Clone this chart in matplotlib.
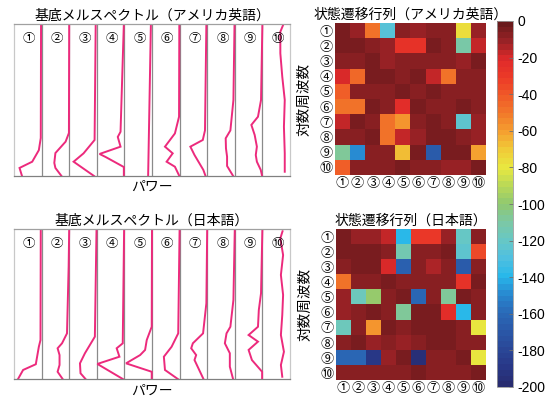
import numpy as np
import matplotlib
matplotlib.use("Agg")
import matplotlib.pyplot as plt
from matplotlib.colors import LinearSegmentedColormap

plt.rcParams['font.family'] = ['Noto Sans CJK JP', 'DejaVu Sans']
plt.rcParams['axes.unicode_minus'] = False

etiquetas = ["①", "②", "③", "④", "⑤", "⑥", "⑦", "⑧", "⑨", "⑩"]

# espectros: pares (frecuencia relativa 0..1, potencia relativa 0..1) por cada base
esp_us = [
    [(1.0, 0.98), (0.25, 0.97), (0.17, 0.90), (0.094, 0.66), (0.053, 0.20), (0.0, 0.29)],
    [(1.0, 1.0), (0.283, 0.99), (0.226, 0.87), (0.151, 0.50), (0.086, 0.46), (0.053, 0.50), (0.0, 0.72)],
    [(1.0, 0.96), (0.237, 0.92), (0.149, 0.52), (0.094, 0.16), (0.0, 0.90)],
    [(1.0, 0.98), (0.291, 0.86), (0.257, 0.76), (0.193, 0.86), (0.145, 0.10), (0.125, 0.32), (0.059, 0.98), (0.0, 0.98)],
    [(1.0, 0.96), (0.5, 0.91), (0.0, 0.86)],
    [(1.0, 0.99), (0.39, 0.98), (0.28, 0.83), (0.193, 0.47), (0.149, 0.75), (0.094, 0.53), (0.061, 0.83), (0.0, 0.99)],
    [(1.0, 0.97), (0.30, 0.92), (0.237, 0.84), (0.193, 0.39), (0.138, 0.54), (0.04, 0.86), (0.0, 0.94)],
    [(1.0, 0.99), (0.5, 0.95), (0.30, 0.84), (0.248, 0.67), (0.182, 0.68), (0.127, 0.72), (0.066, 0.72), (0.0, 0.94)],
    [(1.0, 1.0), (0.5, 0.95), (0.39, 0.84), (0.336, 0.60), (0.27, 0.72), (0.193, 0.80), (0.138, 0.76), (0.094, 0.80), (0.04, 0.94), (0.0, 0.99)],
    [(0.993, 0.75), (0.949, 0.65), (0.807, 0.65), (0.653, 0.72), (0.5, 0.81), (0.324, 0.78), (0.149, 0.81), (0.028, 0.81)],
]
esp_jp = [
    [(1.0, 0.97), (0.261, 0.96), (0.216, 0.90), (0.10, 0.79), (0.062, 0.33), (0.0, 0.14)],
    [(1.0, 1.0), (0.748, 0.98), (0.305, 0.92), (0.239, 0.74), (0.206, 0.58), (0.161, 0.65), (0.095, 0.65), (0.05, 0.58), (0.0, 0.77)],
    [(1.0, 0.99), (0.283, 0.93), (0.173, 0.57), (0.106, 0.39), (0.04, 0.41), (0.0, 0.60)],
    [(1.0, 0.99), (0.239, 0.94), (0.206, 0.72), (0.15, 0.82), (0.102, 0.02), (0.0, 0.96)],
    [(1.0, 1.0), (0.349, 0.99), (0.261, 0.81), (0.195, 0.75), (0.161, 0.57), (0.106, 0.06), (0.05, 0.99), (0.0, 0.99)],
    [(1.0, 1.0), (0.305, 0.95), (0.216, 0.71), (0.15, 0.43), (0.062, 0.47), (0.0, 0.95)],
    [(1.0, 1.0), (0.505, 0.97), (0.305, 0.85), (0.239, 0.48), (0.206, 0.42), (0.161, 0.60), (0.128, 0.54), (0.0, 0.87)],
    [(1.0, 1.0), (0.527, 0.95), (0.349, 0.84), (0.305, 0.70), (0.239, 0.64), (0.173, 0.82), (0.084, 0.82), (0.0, 0.94)],
    [(1.0, 1.0), (0.571, 0.95), (0.46, 0.87), (0.349, 0.84), (0.294, 0.50), (0.25, 0.84), (0.195, 0.50), (0.128, 0.62), (0.05, 0.99), (0.0, 0.99)],
    [(0.983, 0.73), (0.936, 0.65), (0.825, 0.75), (0.693, 0.67), (0.56, 0.75), (0.427, 0.72), (0.294, 0.67), (0.183, 0.78), (0.095, 0.67), (0.017, 0.72)],
]

# matrices de transicion (log)
trans_us = np.array([
    [-6, -10, -48, -128, -8, -12, -8, -8, -78, -10],
    [-6, -6, -8, -12, -28, -28, -5, -8, -112, -18],
    [-8, -8, -5, -12, -8, -8, -8, -8, -12, -5],
    [-20, -45, -5, -5, -8, -5, -16, -50, -8, -8],
    [-42, -8, -8, -8, -5, -8, -5, -8, -8, -8],
    [-48, -48, -5, -8, -22, -5, -8, -8, -5, -8],
    [-16, -5, -8, -50, -58, -8, -5, -8, -125, -10],
    [-8, -8, -5, -50, -18, -10, -5, -5, -8, -10],
    [-108, -148, -8, -8, -68, -5, -168, -5, -5, -62],
    [-42, -8, -8, -8, -5, -8, -8, -10, -10, -5],
])
trans_jp = np.array([
    [-5, -10, -10, -16, -140, -30, -30, -10, -120, -8],
    [-5, -5, -5, -8, -115, -8, -8, -5, -122, -35],
    [-8, -5, -5, -20, -165, -8, -15, -8, -168, -8],
    [-50, -8, -8, -5, -8, -8, -8, -8, -28, -5],
    [-10, -118, -100, -8, -5, -160, -8, -108, -5, -8],
    [-10, -8, -5, -8, -108, -5, -5, -22, -140, -8],
    [-118, -8, -58, -5, -8, -5, -5, -5, -8, -80],
    [-8, -5, -10, -8, -12, -8, -5, -5, -8, -8],
    [-162, -162, -190, -12, -5, -195, -8, -8, -5, -80],
    [-8, -8, -8, -8, -8, -5, -8, -8, -8, -5],
])

colores = ["#282c70", "#283888", "#2a4898", "#2a58a8", "#2a6ab8", "#2888d0", "#28b8ea",
           "#50c0e0", "#68c8c4", "#7cc8a4", "#90c870", "#b8d858", "#e8e840", "#f0cc38",
           "#f5a030", "#f27a2a", "#f05a28", "#ec3a28", "#e02a2a", "#9a2226", "#6a1a1c"]
cmap = LinearSegmentedColormap.from_list("jetr", colores, N=64)

fig = plt.figure(figsize=(5.53, 4.01), dpi=100)
W, H = 553.0, 401.0

def caja(x0, y0, x1, y1):
    return [x0 / W, (H - y1) / H, (x1 - x0) / W, (y1 - y0) / H]

def panel_espectros(pos, espectros, titulo):
    ax = fig.add_axes(pos)
    for i, esp in enumerate(espectros):
        f = np.array([p[0] for p in esp])
        v = np.array([p[1] for p in esp])
        ax.plot(i + v, f, color="#ec2a7c", lw=1.4, solid_joinstyle="miter")
        ax.text(i + 0.55, 0.905, etiquetas[i], ha="center", va="center", fontsize=9)
    for i in range(1, 10):
        ax.axvline(i, color="#8a8a8a", lw=0.9, zorder=0)
    ax.set_xlim(0, 10)
    ax.set_ylim(0, 1)
    ax.set_xticks([])
    ax.set_yticks([])
    ax.spines["left"].set_color("#c8c8c8")
    ax.spines["right"].set_color("#c8c8c8")
    ax.spines["top"].set_color("#a0a0a0")
    ax.spines["bottom"].set_color("#808080")
    for s in ax.spines.values():
        s.set_linewidth(0.9)
    ax.set_title(titulo, fontsize=10, pad=3)
    ax.set_xlabel("パワー", fontsize=10, labelpad=3)
    return ax

def panel_matriz(pos, m, titulo):
    ax = fig.add_axes(pos)
    im = ax.imshow(m, cmap=cmap, vmin=-200, vmax=0, aspect="auto",
                   extent=(0.5, 10.5, 10.5, 0.5), interpolation="nearest")
    ax.set_xticks(range(1, 11))
    ax.set_yticks(range(1, 11))
    ax.set_xticklabels(etiquetas, fontsize=9.5)
    ax.set_yticklabels(etiquetas, fontsize=9.5)
    ax.tick_params(length=0, pad=1.5)
    for s in ax.spines.values():
        s.set_visible(False)
    ax.set_title(titulo, fontsize=10, pad=3)
    ax.set_ylabel("対数周波数", fontsize=10.5, labelpad=6)
    return im

panel_espectros(caja(14, 24, 290, 176), esp_us, "基底メルスペクトル（アメリカ英語）")
panel_espectros(caja(14, 228.7, 290, 379.3), esp_jp, "基底メルスペクトル（日本語）")
im = panel_matriz(caja(335, 23.3, 485.7, 174.7), trans_us, "状態遷移行列（アメリカ英語）")
panel_matriz(caja(335.7, 229.3, 485.7, 380.3), trans_jp, "状態遷移行列（日本語）")

cax = fig.add_axes(caja(496.7, 21, 513.3, 387))
cb = fig.colorbar(im, cax=cax, ticks=np.arange(-200, 1, 20))
cb.outline.set_edgecolor("#9a9a9a")
cb.outline.set_linewidth(0.6)
cax.tick_params(direction="in", length=3, width=0.6, color="#707070", pad=3, labelsize=10)
for t in cax.get_yticklabels():
    t.set_family("Liberation Sans")

fig.savefig("out.png", dpi=100)
